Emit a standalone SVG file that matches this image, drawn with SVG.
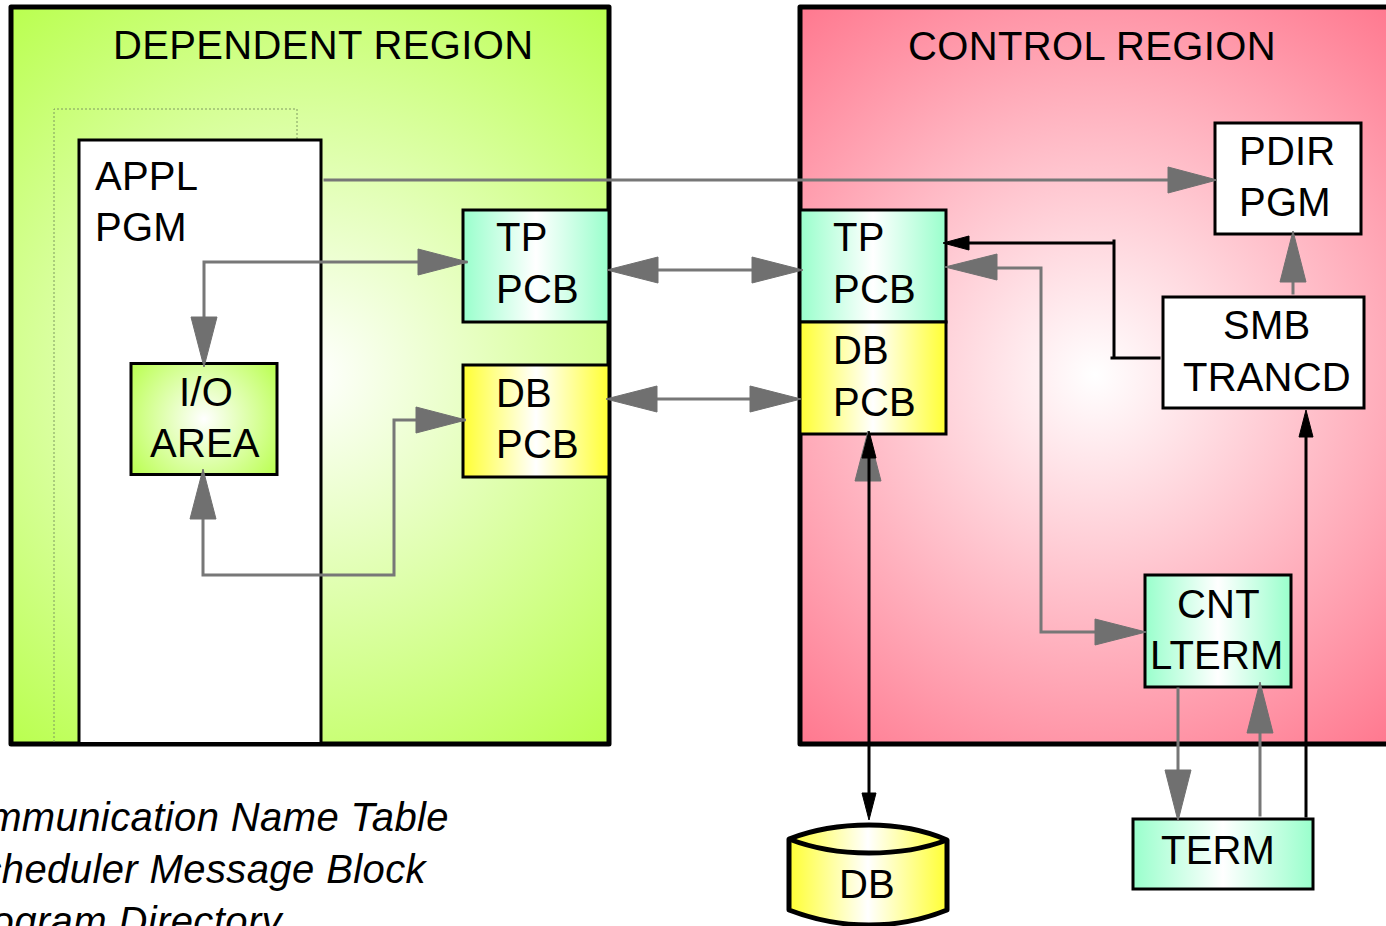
<svg xmlns="http://www.w3.org/2000/svg" width="1386" height="926" viewBox="0 0 1386 926">
<style>
text{font-family:"Liberation Sans",Arial,sans-serif;font-size:40px;fill:#000;letter-spacing:.2px}
.title{letter-spacing:.35px}
.it{font-style:italic;letter-spacing:.4px}
.box{stroke:#000;stroke-width:3}
.region{stroke:#000;stroke-width:5;stroke-linejoin:round}
.g{fill:none;stroke:#777;stroke-width:3;stroke-linecap:square}
.k{fill:none;stroke:#000;stroke-width:3;stroke-linecap:square}
.ga{fill:#707070;stroke:#707070;stroke-width:1;stroke-linejoin:round}
.ka{fill:#000;stroke:#000;stroke-width:1;stroke-linejoin:round}
</style>
<defs>
<radialGradient id="gr" gradientUnits="userSpaceOnUse" cx="310" cy="375" r="480"><stop offset="0" stop-color="#fff"/><stop offset="1" stop-color="#b9ff4d"/></radialGradient>
<radialGradient id="pr" gradientUnits="userSpaceOnUse" cx="1095" cy="375" r="500"><stop offset="0" stop-color="#fff"/><stop offset="1" stop-color="#ff7088"/></radialGradient>
<linearGradient id="aq"><stop offset="0" stop-color="#99ffcc"/><stop offset=".5" stop-color="#fff"/><stop offset="1" stop-color="#99ffcc"/></linearGradient>
<linearGradient id="ye"><stop offset="0" stop-color="#ffff33"/><stop offset=".5" stop-color="#fff"/><stop offset="1" stop-color="#ffff33"/></linearGradient>
<radialGradient id="li" gradientUnits="userSpaceOnUse" cx="204" cy="419" r="92"><stop offset="0" stop-color="#fff"/><stop offset="1" stop-color="#b9ff4d"/></radialGradient>
</defs>
<g id="dependent-region"><rect class="region" x="11" y="7" width="598" height="737" fill="url(#gr)"/><text class="title" x="113" y="59">DEPENDENT REGION</text></g>
<g id="control-region"><rect class="region" x="800" y="7" width="600" height="737" fill="url(#pr)"/><text class="title" x="908" y="60">CONTROL REGION</text></g>
<path id="dotted-outline" d="M54 742V109H297V139" fill="none" stroke="#7f9a60" stroke-width="1" stroke-dasharray="2 2"/>
<g id="appl-pgm"><path class="box" d="M79 742V140H321V742" fill="#fff"/><text x="95" y="190">APPL</text><text x="95" y="241">PGM</text></g>
<g id="io-area"><rect class="box" x="131" y="363.500" width="146" height="111" fill="url(#li)"/><text x="179" y="406">I/O</text><text x="150" y="457">AREA</text></g>
<g id="tp-pcb-dep"><rect class="box" x="463" y="210" width="146" height="112" fill="url(#aq)"/><text x="496" y="251">TP</text><text x="496" y="303">PCB</text></g>
<g id="db-pcb-dep"><rect class="box" x="463" y="365" width="146" height="112" fill="url(#ye)"/><text x="496" y="407">DB</text><text x="496" y="458">PCB</text></g>
<g id="tp-pcb-ctl"><rect class="box" x="800" y="210" width="146" height="112" fill="url(#aq)"/><text x="833" y="251">TP</text><text x="833" y="303">PCB</text></g>
<g id="db-pcb-ctl"><rect class="box" x="800" y="322" width="146" height="112" fill="url(#ye)"/><text x="833" y="364">DB</text><text x="833" y="416">PCB</text></g>
<g id="pdir-pgm"><rect class="box" x="1215" y="123" width="146" height="111" fill="#fff"/><text x="1239" y="165">PDIR</text><text x="1239" y="216">PGM</text></g>
<g id="smb-trancd"><rect class="box" x="1163" y="297" width="201" height="111" fill="#fff"/><text x="1223" y="339">SMB</text><text x="1183" y="391">TRANCD</text></g>
<g id="cnt-lterm"><rect class="box" x="1145" y="575" width="146" height="112" fill="url(#aq)"/><text x="1177" y="618">CNT</text><text x="1150" y="669">LTERM</text></g>
<g id="term"><rect class="box" x="1133" y="819" width="180" height="70" fill="url(#aq)"/><text x="1161" y="864">TERM</text></g>
<g id="db-store"><path d="M789 839Q825 825 869 825T947 840V910Q910 925 869 925T789 910Z" fill="url(#ye)" stroke="#000" stroke-width="5" stroke-linejoin="round"/><path d="M789 839Q825 853 869 853T947 840" fill="none" stroke="#000" stroke-width="5" stroke-linejoin="round"/><text x="839" y="898">DB</text></g>
<g id="connectors">
<path class="g" d="M325 180H1170"/><path class="ga" d="M1217 180L1168 167V193Z"/>
<path class="g" d="M466 262H204V320"/><path class="ga" d="M468 262L418 249V275Z"/><path class="ga" d="M204 367L191 317H217Z"/>
<path class="g" d="M464 420H394V575H203V520"/><path class="ga" d="M466 420L416 407V433Z"/><path class="ga" d="M203 469L190 519H216Z"/>
<path class="g" d="M655 270H755"/><path class="ga" d="M607 270L658 257V283Z"/><path class="ga" d="M803 270L752 257V283Z"/>
<path class="g" d="M655 399H752"/><path class="ga" d="M606 399L657 386V412Z"/><path class="ga" d="M801 399L750 386V412Z"/>
<path class="g" d="M995 268H1041V632H1096"/><path class="ga" d="M945 267L997 254V280Z"/><path class="ga" d="M1146 632L1095 619V645Z"/>
<path class="g" d="M1293 293V280"/><path class="ga" d="M1293 231L1280 282H1306Z"/>
<path class="k" d="M968 243H1114M1114 241V358M1112 358H1159"/><path class="ka" d="M943 243L969 236V250Z"/>
<path class="ga" d="M868 431L855 481H881Z"/>
<path class="k" d="M869 455V795"/><path class="ka" d="M869 431L862 458H876Z"/><path class="ka" d="M869 820L862 793H876Z"/>
<path class="g" d="M1178 689V772"/><path class="ga" d="M1178 821L1165 770H1191Z"/>
<path class="g" d="M1260 815V732"/><path class="ga" d="M1260 682L1247 733H1273Z"/>
<path class="k" d="M1306 816V435"/><path class="ka" d="M1306 410L1299 437H1313Z"/>
</g>
<g id="legend"><text class="it" x="449" y="831" text-anchor="end">mmunication Name Table</text><text class="it" x="426" y="883" text-anchor="end">cheduler Message Block</text><text class="it" x="282" y="935" text-anchor="end">ogram Directory</text></g>
</svg>
